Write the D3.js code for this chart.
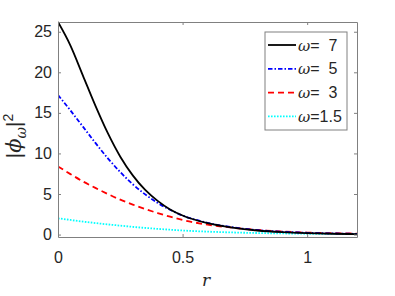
<!DOCTYPE html>
<html>
<head>
<meta charset="utf-8">
<script src="https://cdn.jsdelivr.net/npm/d3@7"></script>
<style>
body { margin: 0; background: #fff; }
text { font-family: "Liberation Sans", Arial, sans-serif; fill: #262626; white-space: pre; }
</style>
</head>
<body>
<script>
var width = 395, height = 296;

// data
var rValues = [0, 0.05, 0.1, 0.15, 0.2, 0.25, 0.3, 0.35, 0.4, 0.45, 0.5, 0.6, 0.7, 0.8, 0.9, 1.0, 1.1, 1.2];
var omega7  = [26.2, 23.3, 19.6, 15.9, 12.5, 9.6, 7.3, 5.5, 4.15, 3.1, 2.35, 1.4, 0.85, 0.5, 0.3, 0.18, 0.1, 0.06];
var omega5  = [17.2, 15.3, 13.3, 11.3, 9.4, 7.7, 6.2, 4.95, 3.9, 3.05, 2.35, 1.45, 0.9, 0.55, 0.35, 0.22, 0.14, 0.09];
var omega3  = [8.4, 7.45, 6.55, 5.75, 5.0, 4.3, 3.7, 3.15, 2.65, 2.2, 1.8, 1.22, 0.85, 0.57, 0.38, 0.25, 0.17, 0.12];
var omega15 = [2.0, 1.8, 1.6, 1.42, 1.25, 1.1, 0.95, 0.82, 0.7, 0.6, 0.5, 0.36, 0.26, 0.19, 0.14, 0.1, 0.08, 0.06];
var xTicks = [0, 0.5, 1];
var yTicks = [0, 5, 10, 15, 20, 25];
var legendLabels = ["=  7", "=  5", "=  3", "=1.5"];

var series = [
  {name: legendLabels[0], values: omega7,  color: "#000000", dash: null},
  {name: legendLabels[1], values: omega5,  color: "#0000ff", dash: "4.5,2,1.5,2"},
  {name: legendLabels[2], values: omega3,  color: "#ff0000", dash: "6,4"},
  {name: legendLabels[3], values: omega15, color: "#00ffff", dash: "1.6,1.4"}
];

var margin = {left: 58, top: 22, right: 38, bottom: 59};

var svg = d3.select("body").append("svg")
  .attr("width", width)
  .attr("height", height);

var x = d3.scaleLinear()
  .domain([0, 1.2])
  .range([margin.left, width - margin.right]);

var y = d3.scaleLinear()
  .domain([-0.3, 26.2])
  .range([height - margin.bottom, margin.top]);

var line = d3.line()
  .x(function (d, i) { return x(rValues[i]); })
  .y(function (d) { return y(d); })
  .curve(d3.curveMonotoneX);

svg.append("defs").append("clipPath").attr("id", "clip")
  .append("rect")
  .attr("x", x(0)).attr("y", y(26.2) - 1)
  .attr("width", x(1.2) - x(0)).attr("height", y(-0.3) - y(26.2) + 1);

var plot = svg.append("g").attr("clip-path", "url(#clip)");

// draw from the flattest curve up so black sits on top
series.slice().reverse().forEach(function (s) {
  plot.append("path")
    .attr("d", line(s.values))
    .attr("fill", "none")
    .attr("stroke", s.color)
    .attr("stroke-width", 1.8)
    .attr("stroke-dasharray", s.dash);
});

// axes with inward ticks, mirrored on top and right
function styleAxis(g) {
  g.selectAll("path").attr("stroke", "#808080");
  g.selectAll("line").attr("stroke", "#808080");
  g.selectAll("text").style("font-size", "16px").attr("fill", "#262626");
}

svg.append("g")
  .attr("transform", "translate(0," + y(-0.3) + ")")
  .call(d3.axisBottom(x).tickValues(xTicks).tickFormat(d3.format("")).tickSizeInner(-3).tickSizeOuter(0).tickPadding(15))
  .call(styleAxis);

svg.append("g")
  .attr("transform", "translate(0," + y(26.2) + ")")
  .call(d3.axisTop(x).tickValues(xTicks).tickFormat("").tickSizeInner(-3).tickSizeOuter(0))
  .call(styleAxis);

svg.append("g")
  .attr("transform", "translate(" + x(0) + ",0)")
  .call(d3.axisLeft(y).tickValues(yTicks).tickSizeInner(-3).tickSizeOuter(0).tickPadding(6))
  .call(styleAxis);

svg.append("g")
  .attr("transform", "translate(" + x(1.2) + ",0)")
  .call(d3.axisRight(y).tickValues(yTicks).tickFormat("").tickSizeInner(-3).tickSizeOuter(0))
  .call(styleAxis);

// x label
svg.append("text")
  .attr("x", 206)
  .attr("y", 286)
  .attr("text-anchor", "middle")
  .style("font-family", "'DejaVu Serif', serif")
  .style("font-style", "italic")
  .style("font-size", "17px")
  .text("r");

// y label |phi_omega|^2
var ylab = svg.append("text")
  .attr("transform", "translate(21,136) rotate(-90)")
  .attr("text-anchor", "middle")
  .style("font-size", "21px");
ylab.append("tspan").text("|");
ylab.append("tspan").style("font-family", "'DejaVu Serif', serif").style("font-style", "italic").text("\u03d5");
ylab.append("tspan").style("font-family", "'DejaVu Serif', serif").style("font-style", "italic").style("font-size", "14px").attr("dy", 5).text("\u03c9");
ylab.append("tspan").attr("dy", -5).text("|");
ylab.append("tspan").style("font-size", "14px").attr("dy", -8).text("2");

// legend
var legend = svg.append("g");
legend.append("rect")
  .attr("x", 265).attr("y", 32)
  .attr("width", 82).attr("height", 98)
  .attr("fill", "#fff")
  .attr("stroke", "#808080")
  .attr("stroke-width", 1);

series.forEach(function (s, i) {
  var ly = 45 + i * 23.8;
  legend.append("line")
    .attr("x1", 268).attr("x2", 296)
    .attr("y1", ly).attr("y2", ly)
    .attr("stroke", s.color)
    .attr("stroke-width", 1.8)
    .attr("stroke-dasharray", s.dash);
  var t = legend.append("text")
    .attr("x", 298)
    .attr("y", ly + 5.5)
    .style("font-size", "16px");
  t.append("tspan").style("font-family", "'DejaVu Serif', serif").style("font-style", "italic").style("font-size", "15px").text("\u03c9");
  t.append("tspan").text(s.name);
});
</script>
</body>
</html>
